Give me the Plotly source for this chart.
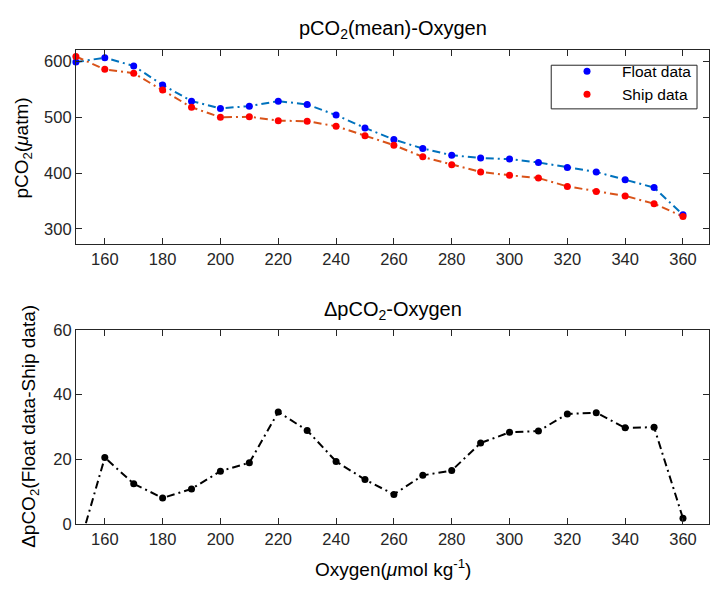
import plotly.graph_objects as go

# Oxygen bins (umol/kg)
oxygen = [150, 160, 170, 180, 190, 200, 210, 220, 230, 240, 250,
          260, 270, 280, 290, 300, 310, 320, 330, 340, 350, 360]

# Mean pCO2 per oxygen bin (uatm)
float_pco2 = [599, 607, 592, 558, 529, 516, 520, 529, 523, 504, 481,
              460, 444, 432, 427, 425, 419, 410, 402, 388, 374, 325]
ship_pco2 = [609, 586, 579, 549, 518, 500, 501, 494, 493, 484, 467,
             450, 429, 415, 402, 396, 391, 376, 367, 359, 345, 322]

# Float minus ship difference (uatm)
delta_pco2 = [-10.5, 20.5, 12.4, 8.0, 10.8, 16.3, 18.9, 34.6, 28.9, 19.3, 13.7,
              9.1, 15.0, 16.5, 25.0, 28.3, 28.7, 34.0, 34.4, 29.7, 29.9, 1.7]

x_ticks = list(range(160, 361, 20))
top_y_ticks = [300, 400, 500, 600]
bottom_y_ticks = [0, 20, 40, 60]

W, H = 710, 591
FONT = "Liberation Sans, Arial, sans-serif"
AX = "#262626"
DASHDOT = "8px,4px,2px,4px"

fig = go.Figure()

# Top panel: connecting lines and markers drawn as separate traces
fig.add_trace(go.Scatter(x=oxygen, y=float_pco2, mode="lines",
                         line=dict(color="#0072BD", width=2, dash=DASHDOT),
                         showlegend=False, xaxis="x", yaxis="y"))
fig.add_trace(go.Scatter(x=oxygen, y=ship_pco2, mode="lines",
                         line=dict(color="#D95319", width=2, dash=DASHDOT),
                         showlegend=False, xaxis="x", yaxis="y"))
fig.add_trace(go.Scatter(x=oxygen, y=float_pco2, mode="markers", name="Float data",
                         marker=dict(color="#0000FF", size=7), cliponaxis=False,
                         xaxis="x", yaxis="y"))
fig.add_trace(go.Scatter(x=oxygen, y=ship_pco2, mode="markers", name="Ship data",
                         marker=dict(color="#FF0000", size=7), cliponaxis=False,
                         xaxis="x", yaxis="y"))

# Bottom panel: difference
fig.add_trace(go.Scatter(x=oxygen, y=delta_pco2, mode="lines+markers",
                         line=dict(color="black", width=2, dash=DASHDOT),
                         marker=dict(color="black", size=7),
                         showlegend=False, xaxis="x2", yaxis="y2"))

axis_common = dict(
    showline=True, linecolor=AX, linewidth=1, mirror="ticks",
    ticks="inside", ticklen=6, tickwidth=1, tickcolor=AX,
    showgrid=False, zeroline=False,
    tickfont=dict(family=FONT, size=16.5, color=AX),
)

x_dom = [76 / W, 1.0]
x_rng = [150, 369]

fig.update_layout(
    width=W, height=H,
    margin=dict(l=0, r=0, t=0, b=0),
    paper_bgcolor="white", plot_bgcolor="white",
    font=dict(family=FONT, color=AX),
    xaxis=dict(domain=x_dom, range=x_rng, tickvals=x_ticks, anchor="y", **axis_common),
    yaxis=dict(domain=[1 - 242.5 / H, 1 - 42.7 / H], range=[272.5, 620],
               tickvals=top_y_ticks, anchor="x", **axis_common),
    xaxis2=dict(domain=x_dom, range=x_rng, tickvals=x_ticks, anchor="y2", **axis_common),
    yaxis2=dict(domain=[1 - 531 / H, 1 - 331 / H], range=[0, 60],
                tickvals=bottom_y_ticks, anchor="x2", **axis_common),
    legend=dict(x=698 / W, y=1 - 47 / H, xanchor="right", yanchor="top",
                bgcolor="rgba(0,0,0,0)", borderwidth=0,
                itemwidth=60, font=dict(family=FONT, size=15.5, color="black"),
                tracegroupgap=0),
)

# Legend frame
fig.add_shape(type="rect", xref="paper", yref="paper",
              x0=552 / W, x1=698 / W, y0=1 - 103 / H, y1=1 - 58 / H,
              line=dict(color=AX, width=1), fillcolor="white", layer="above")

title_font = dict(family=FONT, size=20, color="black")
label_font = dict(family=FONT, size=19, color="black")
annotations = [
    dict(text="pCO<sub>2</sub>(mean)-Oxygen", x=394 / W, y=1 - 21 / H, font=title_font),
    dict(text="ΔpCO<sub>2</sub>-Oxygen", x=394 / W, y=1 - 311 / H, font=title_font),
    dict(text="Oxygen(<i>μ</i>mol kg<sup>-1</sup>)", x=394 / W, y=1 - 577 / H, font=label_font),
    dict(text="pCO<sub>2</sub>(<i>μ</i>atm)", x=23 / W, y=1 - 143 / H, textangle=-90, font=label_font),
    dict(text="ΔpCO<sub>2</sub>(Float data-Ship data)", x=30 / W, y=1 - 430 / H, textangle=-90, font=label_font),
]
for a in annotations:
    fig.add_annotation(xref="paper", yref="paper", showarrow=False,
                       xanchor="center", yanchor="middle", **a)

fig.write_html("out.html")
